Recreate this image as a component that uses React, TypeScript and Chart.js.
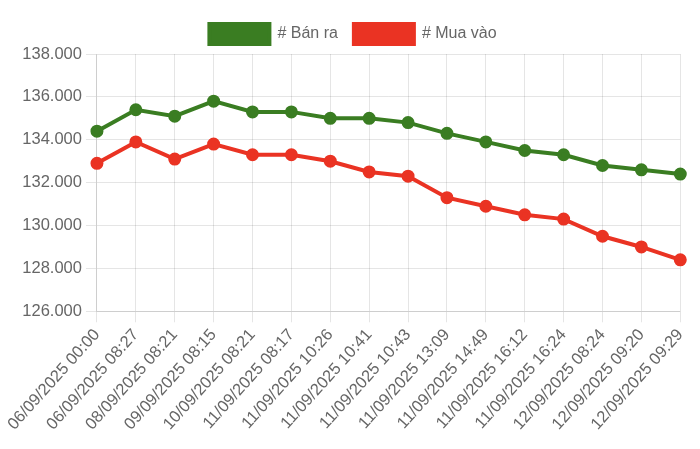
import { useEffect, useRef } from 'react'
import { Chart, registerables } from 'chart.js'

Chart.register(...registerables)

const labels = [
  '06/09/2025 00:00',
  '06/09/2025 08:27',
  '08/09/2025 08:21',
  '09/09/2025 08:15',
  '10/09/2025 08:21',
  '11/09/2025 08:17',
  '11/09/2025 10:26',
  '11/09/2025 10:41',
  '11/09/2025 10:43',
  '11/09/2025 13:09',
  '11/09/2025 14:49',
  '11/09/2025 16:12',
  '11/09/2025 16:24',
  '12/09/2025 08:24',
  '12/09/2025 09:20',
  '12/09/2025 09:29',
]

// giá bán ra / mua vào
const banRa = [134400, 135400, 135100, 135800, 135300, 135300, 135000, 135000, 134800, 134300, 133900, 133500, 133300, 132800, 132600, 132400]
const muaVao = [132900, 133900, 133100, 133800, 133300, 133300, 133000, 132500, 132300, 131300, 130900, 130500, 130300, 129500, 129000, 128400]

const GREEN = '#3a7d22'
const RED = '#ea3323'

const fmt = (v: number) => String(Math.round(v)).replace(/\B(?=(\d{3})+(?!\d))/g, '.')

const App = () => {
  const chartRef = useRef<HTMLCanvasElement>(null)

  useEffect(() => {
    if (!chartRef.current) return
    Chart.defaults.font.family = '"Liberation Sans", Arial, sans-serif'
    Chart.defaults.font.size = 16.5
    Chart.defaults.color = '#666'

    const myChart = new Chart(chartRef.current, {
      type: 'line',
      data: {
        labels,
        datasets: [
          {
            label: '# Bán ra',
            data: banRa,
            borderColor: GREEN,
            backgroundColor: GREEN,
            borderWidth: 4,
            pointRadius: 4.5,
            tension: 0,
          },
          {
            label: '# Mua vào',
            data: muaVao,
            borderColor: RED,
            backgroundColor: RED,
            borderWidth: 4,
            pointRadius: 4.5,
            tension: 0,
          },
        ],
      },
      options: {
        animation: false,
        responsive: true,
        maintainAspectRatio: false,
        layout: { padding: { bottom: 4 } },
        plugins: {
          legend: {
            position: 'top',
            labels: { boxWidth: 60, boxHeight: 20, padding: 16, font: { size: 16 } },
          },
        },
        scales: {
          y: {
            min: 126000,
            max: 138000,
            grid: { tickLength: 11 },
            ticks: { stepSize: 2000, padding: 4, callback: (v: any) => fmt(Number(v)) },
          },
          x: {
            grid: { tickLength: 11 },
            ticks: { autoSkip: false, minRotation: 48, maxRotation: 48, padding: 3 },
          },
        },
      },
    })

    return () => {
      myChart.destroy()
    }
  }, [])

  return (
    <div style={{ width: 690, height: 433 }}>
      <canvas ref={chartRef} />
    </div>
  )
}

export default App
